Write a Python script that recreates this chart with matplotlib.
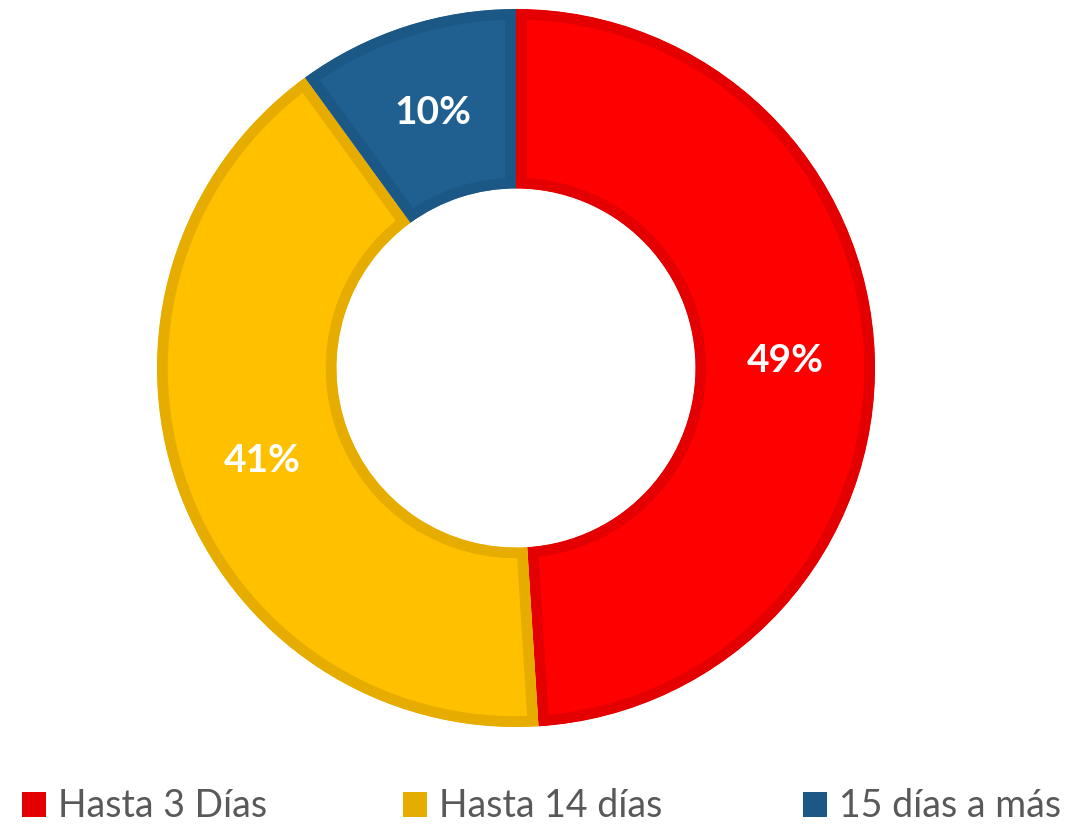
import numpy as np
import matplotlib.pyplot as plt
from matplotlib.patches import Rectangle

# Datos del gráfico
categorias = ['Hasta 3 Días', 'Hasta 14 días', '15 días a más']
porcentajes = [49, 41, 10]
relleno = ['#FF0000', '#FFC000', '#1F6090']
borde = ['#E40000', '#E6AC00', '#1C5886']

W, H = 1089, 829
fig = plt.figure(figsize=(W / 100, H / 100), dpi=100)
ax = fig.add_axes([0, 0, 1, 1])

cx, cy, r = 516, H - 369, 359
wedges, _ = ax.pie(porcentajes, colors=relleno, startangle=90, counterclock=False,
                   radius=r, center=(cx, cy), frame=True,
                   wedgeprops=dict(width=r * 0.5, linewidth=15.5))
ax.set_xlim(0, W)
ax.set_ylim(0, H)
ax.set_aspect('equal')
ax.axis('off')

# borde interior de cada sector (recortado a su propia forma)
for w, ec in zip(wedges, borde):
    w.set_edgecolor(ec)
    w.set_clip_on(True)
    w.set_clip_path(w)

# etiquetas de porcentaje en el centro del anillo
inicio = 90.0
for p in porcentajes:
    ang = np.deg2rad(inicio - p * 3.6 / 2)
    inicio -= p * 3.6
    rr = r * 0.75
    ax.text(cx + rr * np.cos(ang), cy + rr * np.sin(ang), f'{p}%',
            ha='center', va='center', color='white', fontsize=28,
            fontweight='bold', family='Lato')

# leyenda inferior
leg_x = [22, 403, 803]
for x, ec, lab in zip(leg_x, borde, categorias):
    ax.add_patch(Rectangle((x, H - 818), 24, 25, facecolor=ec, edgecolor='none'))
    ax.text(x + 36, H - 817, lab, ha='left', va='baseline', color='#595959',
            fontsize=27, family='Lato')

fig.savefig('out.png', dpi=100, facecolor='white')
